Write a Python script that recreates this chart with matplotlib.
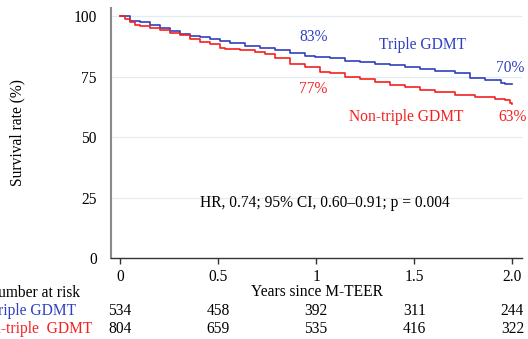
import numpy as np
import matplotlib.pyplot as plt

plt.rcParams["font.family"] = ["Liberation Serif", "DejaVu Serif"]
plt.rcParams["font.size"] = 11.2

# Kaplan-Meier curves (years, survival %)
t_triple = [0, 0.051, 0.10, 0.153, 0.204, 0.255, 0.306, 0.357, 0.408, 0.459,
            0.51, 0.561, 0.638, 0.714, 0.791, 0.867, 0.944, 0.995, 1.071,
            1.148, 1.224, 1.30, 1.378, 1.454, 1.53, 1.607, 1.709, 1.786,
            1.862, 1.94, 1.964, 2.0]
s_triple = [100, 97.9, 97.4, 96.3, 95.2, 93.9, 92.6, 91.7, 91.2, 90.4,
            89.7, 88.7, 87.7, 87.0, 86.0, 84.8, 83.6, 83.0, 82.5,
            81.5, 80.9, 80.4, 79.8, 78.8, 78.0, 77.4, 76.3, 74.5,
            73.6, 72.2, 71.8, 71.8]

t_non = [0, 0.026, 0.051, 0.077, 0.102, 0.153, 0.204, 0.255, 0.306, 0.357,
         0.408, 0.459, 0.51, 0.536, 0.612, 0.689, 0.74, 0.791, 0.867, 0.944,
         1.02, 1.071, 1.148, 1.224, 1.30, 1.378, 1.454, 1.53, 1.607, 1.709,
         1.811, 1.913, 1.964, 1.99, 2.0]
s_non = [100, 99.0, 97.7, 96.3, 95.9, 95.2, 94.2, 93.2, 92.1, 90.5,
         89.4, 88.3, 86.8, 86.6, 86.0, 85.0, 84.2, 82.5, 80.4, 78.8,
         77.0, 76.3, 74.9, 74.2, 72.9, 71.5, 70.8, 69.6, 68.7, 67.4,
         66.4, 65.7, 65.3, 64.2, 63.6]

risk_times = [0, 0.5, 1, 1.5, 2.0]
risk_triple = [534, 458, 392, 311, 244]
risk_non = [804, 659, 535, 416, 322]

blue = "#3040c0"
red = "#f52020"

fig = plt.figure(figsize=(5.28, 3.39), dpi=100)
ax = fig.add_axes([0.210, 0.239, 0.779, 0.737])

ax.plot(t_triple, s_triple, drawstyle="steps-post", color=blue, lw=1.2, zorder=3)
ax.plot(t_non, s_non, drawstyle="steps-post", color=red, lw=1.2, zorder=3)

ax.set_xlim(-0.046, 2.05)
ax.set_ylim(0, 103.3)
ax.set_yticks([0, 25, 50, 75, 100])
ax.set_xticks(risk_times)
ax.set_xticklabels(["0", "0.5", "1", "1.5", "2.0"])
ax.tick_params(axis="y", length=0, pad=10)
ax.tick_params(axis="x", length=4, width=1, color="#333333", pad=4, direction="out")
for y in [25, 50, 75, 100]:
    ax.axhline(y, color="#e2ecf0", lw=0.9, zorder=1)

ax.spines["top"].set_visible(False)
ax.spines["right"].set_visible(False)
ax.spines["left"].set_color("#8a8a8a")
ax.spines["left"].set_linewidth(1.5)
ax.spines["bottom"].set_color("#333333")
ax.spines["bottom"].set_linewidth(1.0)

ax.set_ylabel("Survival rate (%)")
ax.yaxis.set_label_coords(-0.209, 0.5)

# curve annotations
ax.text(0.985, 91.5, "83%", color=blue, ha="center", va="center")
ax.text(1.54, 88.0, "Triple GDMT", color=blue, ha="center", va="center")
ax.text(1.99, 78.5, "70%", color=blue, ha="center", va="center")
ax.text(0.985, 70.0, "77%", color=red, ha="center", va="center")
ax.text(1.46, 58.4, "Non-triple GDMT", color=red, ha="center", va="center")
ax.text(2.0, 58.4, "63%", color=red, ha="center", va="center")
ax.text(1.045, 22.7, "HR, 0.74; 95% CI, 0.60\u20130.91; p = 0.004",
        ha="center", va="center")

fig.text(317 / 528, 1 - 292 / 339, "Years since M-TEER", ha="center", va="center")

# numbers at risk table
fig.text(80 / 528, 1 - 293 / 339, "Number at risk", ha="right", va="center")
fig.text(76 / 528, 1 - 311 / 339, "Triple GDMT", ha="right", va="center", color=blue)
fig.text(92 / 528, 1 - 329 / 339, "Non-triple  GDMT", ha="right", va="center", color=red)
for x, a, b in zip(risk_times, risk_triple, risk_non):
    ax.annotate(str(a), (x, 1 - 311 / 339), xycoords=("data", "figure fraction"),
                ha="center", va="center", annotation_clip=False)
    ax.annotate(str(b), (x, 1 - 329 / 339), xycoords=("data", "figure fraction"),
                ha="center", va="center", annotation_clip=False)

fig.savefig("out.png", dpi=100)
